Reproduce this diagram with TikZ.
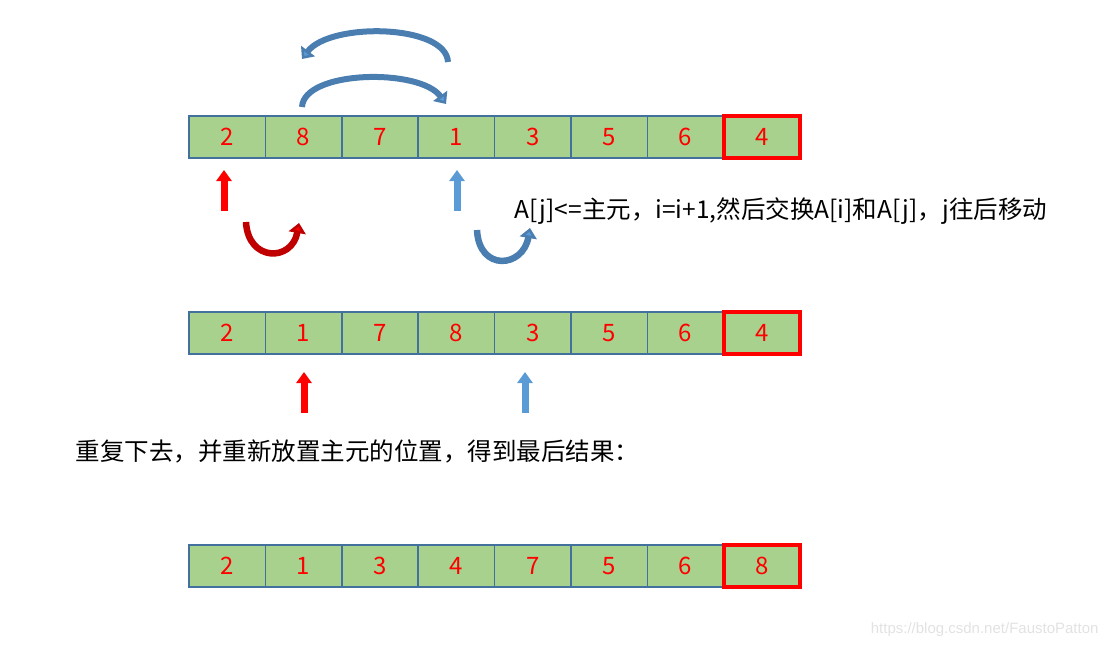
\documentclass[tikz,border=0pt]{standalone}
\usepackage{fontspec}
\setmainfont{Liberation Sans}
\newfontfamily\cjk{Noto Sans CJK SC}
\usetikzlibrary{arrows.meta, positioning}
\definecolor{cellGreen}{HTML}{A9D18E}
\definecolor{cellEdge}{HTML}{41719C}
\definecolor{arrBlue}{HTML}{5B9BD5}
\definecolor{arrBlueDark}{HTML}{4A7EB0}
\definecolor{arrRed}{HTML}{FF0000}
\definecolor{arrRedDark}{HTML}{C00000}
\definecolor{markGray}{HTML}{E2E2E2}

\begin{document}
\begin{tikzpicture}[x=1pt, y=-1pt,
    cell/.style={rectangle, draw=cellEdge, line width=1.6pt, fill=cellGreen,
                 minimum width=76.4pt, minimum height=42pt, inner sep=0pt,
                 text=red, font=\cjk\fontsize{24}{24}\selectfont},
    pivot/.style={cell, draw=red, line width=3.6pt},
    upred/.style={draw=arrRed, line width=7pt, -{Triangle[width=15pt,length=11pt]}},
    upblue/.style={upred, draw=arrBlue},
    swapblue/.style={draw=arrBlueDark, line width=6pt,
                     -{Triangle[width=17pt,length=10pt, fill=arrBlue]}},
    bendred/.style={draw=arrRedDark, line width=6.5pt,
                    -{Triangle[width=17pt,length=10pt, fill=arrRed]}},
    bendblue/.style={bendred, draw=arrBlueDark, -{Triangle[width=17pt,length=10pt, fill=arrBlue]}},
    note/.style={anchor=west, font=\cjk\fontsize{24.5}{24.5}\selectfont, text=black},
  ]
    \useasboundingbox (0,0) rectangle (1110,648);

    % the three rows of the array
    \foreach \row/\ypos/\vals in {%
      a/137/{2,8,7,1,3,5,6,4},
      b/333/{2,1,7,8,3,5,6,4},
      c/566/{2,1,3,4,7,5,6,8}}{
      \foreach \v [count=\k] in \vals {
        \ifnum\k=8
          \node[pivot] (\row\k) at (189+76.4*\k-38.2, \ypos) {\v};
        \else
          \node[cell] (\row\k) at (189+76.4*\k-38.2, \ypos) {\v};
        \fi
      }
    }
    % redraw the pivot cells on top
    \node[pivot] at (a8) {4};
    \node[pivot] at (b8) {4};
    \node[pivot] at (c8) {8};

    % swap of 8 and 1
    \coordinate (swapA) at (302,107);
    \coordinate (swapB) at (446,104);
    \coordinate (swapC) at (448,62);
    \coordinate (swapD) at (302,59);
    \draw[swapblue] (swapA) .. controls (304,70) and (420,68) .. (swapB);
    \draw[swapblue] (swapC) .. controls (446,24) and (330,22) .. (swapD);

    % i and j pointers, first step
    \coordinate (i1) at (224,211);
    \coordinate (i1t) at (224,170);
    \coordinate (j1) at (457,211);
    \coordinate (j1t) at (457,170);
    \draw[upred] (i1) -- (i1t);
    \draw[upblue] (j1) -- (j1t);

    % both pointers move on
    \coordinate (mvI) at (246,222);
    \coordinate (mvIt) at (299,223);
    \coordinate (mvJ) at (477,230);
    \coordinate (mvJt) at (530,228);
    \draw[bendred] (mvI) .. controls (248,262) and (292,262) .. (mvIt);
    \draw[bendblue] (mvJ) .. controls (479,272) and (523,268) .. (mvJt);

    \node[note] (rule) at (511,211)
      {A[j]<=主元，i=i+1,然后交换A[i]和A[j]，j往后移动};

    % pointers, second step
    \coordinate (i2) at (304,413);
    \coordinate (i2t) at (304,372);
    \coordinate (j2) at (525,413);
    \coordinate (j2t) at (525,372);
    \draw[upred] (i2) -- (i2t);
    \draw[upblue] (j2) -- (j2t);

    \node[note] (repeat) at (72,451)
      {重复下去，并重新放置主元的位置，得到最后结果：};

    \node[anchor=east, font=\fontsize{15}{15}\selectfont, text=markGray] (mark)
      at (1102,630) {https://blog.csdn.net/FaustoPatton};
\end{tikzpicture}
\end{document}
